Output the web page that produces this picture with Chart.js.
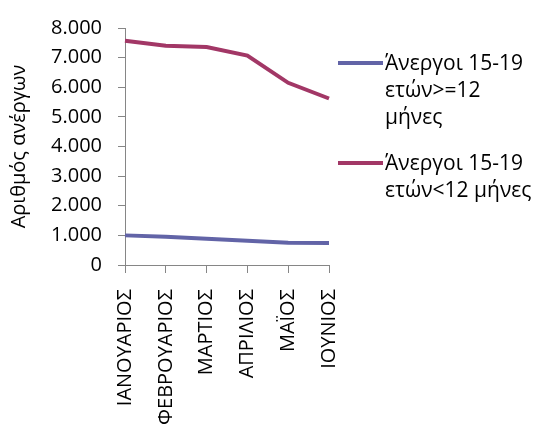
<!DOCTYPE html>
<html>
<head>
<meta charset="utf-8">
<script src="https://cdn.jsdelivr.net/npm/chart.js@4"></script>
<style>
    body { margin: 0; background: #fff; }
    #wrap { position: relative; width: 541px; height: 430px; }
    #legend { position: absolute; left: 338px; top: 49px; font-family: "Open Sans", sans-serif; font-size: 21px; color: #000; }
    .item { position: relative; padding-left: 47px; line-height: 27px; margin-bottom: 19px; white-space: nowrap; }
    .swatch { position: absolute; left: 0; top: 12px; width: 45px; height: 4px; }
</style>
</head>
<body>
<div id="wrap">
    <canvas id="lineChart" width="541" height="430"></canvas>
    <div id="legend"></div>
</div>
<script>
    const months = ['ΙΑΝΟΥΑΡΙΟΣ', 'ΦΕΒΡΟΥΑΡΙΟΣ', 'ΜΑΡΤΙΟΣ', 'ΑΠΡΙΛΙΟΣ', 'ΜΑΪΟΣ', 'ΙΟΥΝΙΟΣ'];
    const longTerm = [1000, 950, 885, 820, 755, 745];
    const shortTerm = [7570, 7400, 7360, 7070, 6150, 5620];
    const seriesLines = [
        ['Άνεργοι 15-19', 'ετών>=12', 'μήνες'],
        ['Άνεργοι 15-19', 'ετών<12 μήνες']
    ];
    const yTicks = [0, 1000, 2000, 3000, 4000, 5000, 6000, 7000, 8000];

    const font = { family: '"Open Sans", sans-serif', size: 20 };
    const axisGrey = '#868686';

    function formatThousands(v) {
        return String(v).replace(/\B(?=(\d{3})+(?!\d))/g, '.');
    }

    const chart = new Chart(document.getElementById('lineChart'), {
        type: 'line',
        data: {
            labels: months,
            datasets: [{
                label: seriesLines[0].join(' '),
                data: longTerm,
                borderColor: '#6264a7',
                borderWidth: 4,
                pointRadius: 0,
                tension: 0
            }, {
                label: seriesLines[1].join(' '),
                data: shortTerm,
                borderColor: '#a23766',
                borderWidth: 4,
                pointRadius: 0,
                tension: 0
            }]
        },
        options: {
            responsive: false,
            animation: false,
            layout: { padding: { top: 22, right: 212, left: 0, bottom: 0 } },
            plugins: {
                legend: { display: false },
                tooltip: { enabled: false }
            },
            scales: {
                x: {
                    offset: false,
                    afterFit: function (scale) { scale.height = 165; },
                    grid: { drawOnChartArea: false, tickLength: 8, color: axisGrey },
                    border: { color: axisGrey },
                    ticks: {
                        autoSkip: false,
                        minRotation: 90,
                        maxRotation: 90,
                        padding: 16,
                        color: '#000',
                        font: font
                    }
                },
                y: {
                    min: 0,
                    max: 8000,
                    afterFit: function (scale) { scale.width = 125; },
                    afterBuildTicks: function (scale) {
                        scale.ticks = yTicks.map(v => ({ value: v }));
                    },
                    grid: { drawOnChartArea: false, tickLength: 7, color: axisGrey },
                    border: { color: axisGrey },
                    ticks: {
                        padding: 16,
                        color: '#000',
                        font: font,
                        callback: function (value) { return formatThousands(value); }
                    },
                    title: {
                        display: true,
                        text: 'Αριθμός ανέργων',
                        color: '#000',
                        font: font,
                        padding: { top: 7, bottom: 0 }
                    }
                }
            }
        }
    });

    // HTML legend with the reference's line breaks
    const legendEl = document.getElementById('legend');
    chart.data.datasets.forEach(function (ds, i) {
        const item = document.createElement('div');
        item.className = 'item';
        const swatch = document.createElement('span');
        swatch.className = 'swatch';
        swatch.style.background = ds.borderColor;
        item.appendChild(swatch);
        seriesLines[i].forEach(function (line, j) {
            if (j > 0) item.appendChild(document.createElement('br'));
            item.appendChild(document.createTextNode(line));
        });
        legendEl.appendChild(item);
    });
</script>
</body>
</html>
